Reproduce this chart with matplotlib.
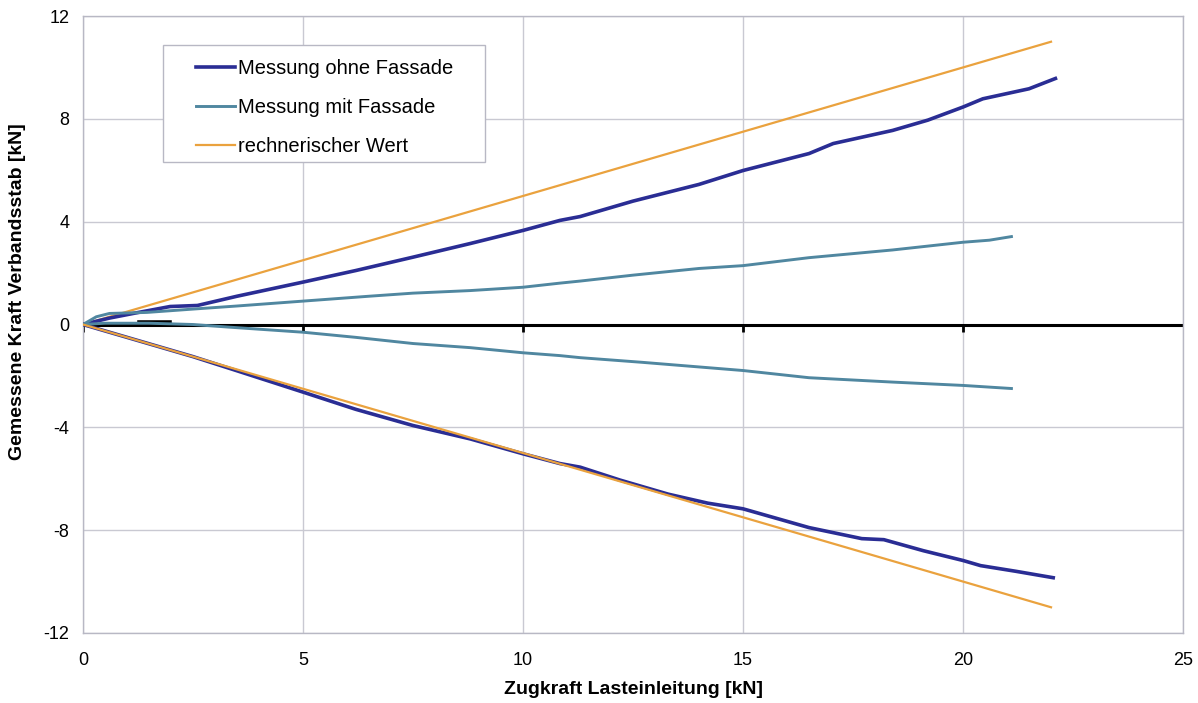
import numpy as np
import matplotlib.pyplot as plt
from matplotlib.patches import Rectangle

plt.rcParams['font.family'] = ['Liberation Sans', 'DejaVu Sans']
plt.rcParams['axes.unicode_minus'] = False

# Messung ohne Fassade (Zug- und Druckstab)
x_ohne_oben = [0, 0.6, 1.2, 1.98, 2.6, 3.5, 5, 6.2, 7.5, 8.8, 10, 10.84, 11.3, 12.5, 14, 15, 16.5, 17.05, 18.4, 19.2, 20, 20.45, 21.5, 22.1]
y_ohne_oben = [0, 0.25, 0.45, 0.70, 0.74, 1.1, 1.65, 2.1, 2.62, 3.15, 3.66, 4.05, 4.2, 4.8, 5.45, 5.99, 6.65, 7.04, 7.55, 7.95, 8.46, 8.78, 9.17, 9.57]
x_ohne_unten = [0, 1, 2.5, 3.5, 5, 6.2, 7.5, 8.8, 10, 10.84, 11.3, 12.2, 13.3, 14.2, 15, 16.5, 17.7, 18.2, 19.1, 20, 20.4, 21.2, 22.05]
y_ohne_unten = [0, -0.5, -1.25, -1.8, -2.63, -3.3, -3.93, -4.45, -5.03, -5.41, -5.55, -6.05, -6.6, -6.95, -7.17, -7.9, -8.33, -8.37, -8.8, -9.18, -9.38, -9.6, -9.85]

# Messung mit Fassade
x_mit_oben = [0, 0.3, 0.6, 1.45, 2.5, 3.5, 5, 6.5, 7.5, 8.8, 10, 10.84, 11.3, 12.5, 14, 15, 16.5, 18.4, 20, 20.6, 21.1]
y_mit_oben = [0, 0.3, 0.43, 0.47, 0.6, 0.72, 0.91, 1.1, 1.22, 1.32, 1.45, 1.61, 1.69, 1.92, 2.18, 2.29, 2.6, 2.9, 3.2, 3.28, 3.42]
x_mit_unten = [0, 0.5, 1.5, 2.5, 3.3, 5, 6.2, 7.5, 8.8, 10, 10.84, 11.3, 12.7, 15, 16.5, 18.4, 20, 21.1]
y_mit_unten = [0, 0.05, 0.05, 0.0, -0.1, -0.3, -0.5, -0.74, -0.9, -1.1, -1.21, -1.29, -1.47, -1.79, -2.07, -2.24, -2.37, -2.49]

# rechnerischer Wert
x_rechn = [0, 22.0]
y_rechn_oben = [0, 11.0]
y_rechn_unten = [0, -11.0]

# Nulllinie mit Markierungen
x_null = [0, 25]
y_null = [0, 0]
x_null_dick = [1.3, 1.95]
x_null_marken = [0, 5, 10, 15, 20]

blau = '#2a2d94'
tuerkis = '#5087a0'
orange = '#eaa23e'
rahmen = '#b8b8c4'

fig = plt.figure(figsize=(11.98, 7.03), dpi=100)
ax = fig.add_axes([0.0693, 0.0996, 0.9182, 0.8776])

ax.plot(x_null, y_null, color='black', lw=2.2, zorder=2)
ax.plot(x_null_dick, [0.04] * len(x_null_dick), color='black', lw=4, zorder=2)
ax.plot(x_null_marken, [-0.12] * len(x_null_marken), ls='none', marker='|',
        ms=6, mew=2, color='black', zorder=2)

ax.plot(x_rechn, y_rechn_oben, color=orange, lw=1.6, zorder=3, label='rechnerischer Wert')
ax.plot(x_rechn, y_rechn_unten, color=orange, lw=1.6, zorder=4)

ax.plot(x_ohne_oben, y_ohne_oben, color=blau, lw=2.6, zorder=3, label='Messung ohne Fassade')
ax.plot(x_ohne_unten, y_ohne_unten, color=blau, lw=2.6, zorder=3)

ax.plot(x_mit_oben, y_mit_oben, color=tuerkis, lw=2.1, zorder=3, label='Messung mit Fassade')
ax.plot(x_mit_unten, y_mit_unten, color=tuerkis, lw=2.1, zorder=3)

ax.set_xlim(0, 25)
ax.set_ylim(-12, 12)
ax.set_xticks(np.arange(0, 26, 5))
ax.set_yticks(np.arange(-12, 13, 4))
ax.grid(True, color='#c9c9d2', lw=1)
ax.set_axisbelow(True)
ax.tick_params(length=0, labelsize=13)
ax.tick_params(axis='x', pad=14)
ax.tick_params(axis='y', pad=10)
for s in ax.spines.values():
    s.set_color(rahmen)
    s.set_linewidth(1)

ax.set_xlabel('Zugkraft Lasteinleitung [kN]', fontsize=14, fontweight='bold')
ax.set_ylabel('Gemessene Kraft Verbandsstab [kN]', fontsize=14, fontweight='bold')
ax.xaxis.set_label_coords(0.5, -0.078)
ax.yaxis.set_label_coords(-0.052, 0.554)

# Legendenrahmen separat, damit links/rechts mehr Rand bleibt
ax.add_patch(Rectangle((0.0727, 0.7634), 0.2928, 0.1896, transform=ax.transAxes,
                       facecolor='white', edgecolor=rahmen, lw=1, zorder=5))
handles, labels = ax.get_legend_handles_labels()
order = [1, 2, 0]
leg = ax.legend([handles[i] for i in order], [labels[i] for i in order],
                loc='upper left', bbox_to_anchor=(0.0857, 0.962), fontsize=14.5,
                handlelength=1.9, handletextpad=0.15, labelspacing=1.0,
                borderpad=0.45, frameon=False)
leg.set_zorder(6)

fig.savefig('out.png', dpi=100)
